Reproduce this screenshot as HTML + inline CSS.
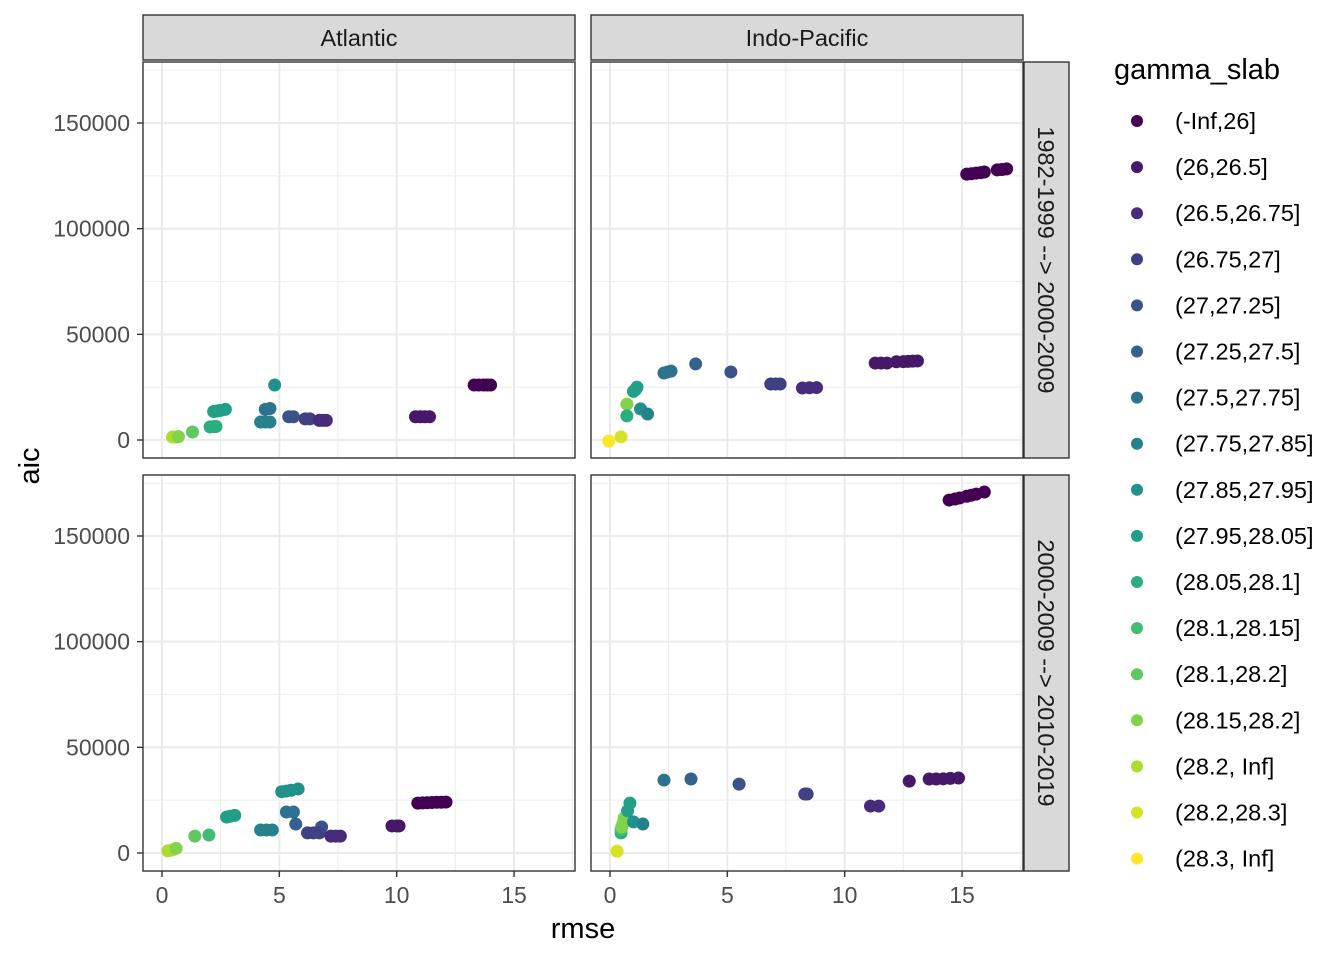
<!DOCTYPE html>
<html><head><meta charset="utf-8">
<style>
html,body{margin:0;padding:0;background:#fff;}
svg{display:block;font-family:"Liberation Sans",sans-serif;}
</style></head>
<body>
<svg id="chart" width="1344" height="960" xmlns="http://www.w3.org/2000/svg"></svg>
<script>
const categories = ["(-Inf,26]","(26,26.5]","(26.5,26.75]","(26.75,27]","(27,27.25]","(27.25,27.5]","(27.5,27.75]","(27.75,27.85]","(27.85,27.95]","(27.95,28.05]","(28.05,28.1]","(28.1,28.15]","(28.1,28.2]","(28.15,28.2]","(28.2, Inf]","(28.2,28.3]","(28.3, Inf]"];
const colNames = ["Atlantic","Indo-Pacific"];
const rowNames = ["1982-1999 --> 2000-2009","2000-2009 --> 2010-2019"];
const xTicks = [0,5,10,15];
const yTicks = [0,50000,100000,150000];
// panel: Atlantic, 1982-1999
const atl1_rmse = [0.45,0.6,0.7,1.3,2.05,2.2,2.3,2.2,2.35,2.5,2.7,4.8,4.2,4.4,4.6,4.4,4.6,5.4,5.6,6.1,6.3,6.7,6.85,7.0,10.8,11.0,11.2,11.4,13.3,13.5,13.7,13.85,14.0];
const atl1_aic  = [1400,1400,1600,3800,6200,6300,6400,13500,13700,14000,14500,26000,8500,8500,8500,14500,14900,11000,11000,10000,10000,9300,9300,9300,11000,11000,11000,11000,26000,26000,26000,26000,26000];
const atl1_grp  = [14,14,13,12,10,10,10,9,9,9,9,8,7,7,7,6,6,4,4,3,3,2,2,2,1,1,1,1,0,0,0,0,0];
// panel: Indo-Pacific, 1982-1999
const ind1_rmse = [-0.05,0.47,0.72,0.72,1.0,1.1,1.15,1.3,1.6,2.3,2.45,2.6,3.65,5.15,6.85,7.05,7.25,8.2,8.5,8.8,11.3,11.55,11.8,12.2,12.5,12.7,12.9,13.1,15.2,15.4,15.6,15.8,15.95,16.5,16.7,16.9];
const ind1_aic  = [-500,1500,17000,11400,23000,24000,25000,14700,12300,31700,32200,32600,36000,32200,26500,26500,26500,24600,24700,24800,36400,36400,36400,37000,37100,37200,37300,37400,125800,126000,126300,126500,126800,127800,128000,128300];
const ind1_grp  = [16,15,13,10,9,9,9,8,7,6,6,6,5,4,3,3,3,2,2,2,1,1,1,1,1,1,1,1,0,0,0,0,0,0,0,0];
// panel: Atlantic, 2000-2009
const atl2_rmse = [0.25,0.35,0.45,0.6,1.4,2.0,2.75,2.9,3.1,5.1,5.3,5.5,5.8,4.2,4.45,4.7,5.3,5.6,5.7,6.8,6.2,6.45,6.7,7.2,7.4,7.6,9.8,10.0,10.1,10.9,11.1,11.3,11.5,11.7,11.9,12.1];
const atl2_aic  = [1000,1200,1500,2200,8000,8500,17000,17400,17800,29000,29300,29700,30300,10900,10900,10900,19400,19400,13700,12300,9500,9500,9500,8000,8000,8000,12800,12800,12800,23600,23700,23800,23900,24000,24000,24100];
const atl2_grp  = [14,14,14,13,12,11,9,9,9,8,8,8,8,7,7,7,6,6,5,4,3,3,3,2,2,2,1,1,1,0,0,0,0,0,0,0];
// panel: Indo-Pacific, 2000-2009
const ind2_rmse = [0.3,0.47,0.47,0.5,0.55,0.6,0.6,0.75,0.85,1.0,1.4,2.3,3.45,5.5,8.3,8.4,11.1,11.45,12.75,13.6,13.9,14.2,14.5,14.85,14.45,14.7,14.9,15.2,15.4,15.6,15.95];
const ind2_aic  = [900,9500,11000,12300,14000,14500,16500,20000,23600,14700,13700,34500,35000,32600,27900,27900,22200,22200,34000,35000,35000,35100,35300,35500,167000,167500,168000,168800,169300,169800,170800];
const ind2_grp  = [15,10,11,13,13,13,13,9,9,8,7,6,5,4,3,3,2,2,1,1,1,1,1,1,0,0,0,0,0,0,0];

const panels = [
  {c:0,r:0,xs:atl1_rmse,ys:atl1_aic,gs:atl1_grp},
  {c:1,r:0,xs:ind1_rmse,ys:ind1_aic,gs:ind1_grp},
  {c:0,r:1,xs:atl2_rmse,ys:atl2_aic,gs:atl2_grp},
  {c:1,r:1,xs:ind2_rmse,ys:ind2_aic,gs:ind2_grp}
];
const stops=["#440154","#482475","#414487","#355F8D","#2A788E","#21918C","#22A884","#44BF70","#7AD151","#BDDF26","#FDE725"];
function hx(h){return [1,3,5].map(i=>parseInt(h.substr(i,2),16));}
function viridis(t){const s=t*10,i=Math.min(9,Math.floor(s)),f=s-i;const a=hx(stops[i]),b=hx(stops[i+1]);return "rgb("+a.map((v,k)=>Math.round(v+(b[k]-v)*f)).join(",")+")";}
const col = i=>viridis(i/(categories.length-1));

const NS="http://www.w3.org/2000/svg";
const svg=document.getElementById("chart");
function el(tag,attrs,parent,text){const e=document.createElementNS(NS,tag);for(const k in attrs)e.setAttribute(k,attrs[k]);if(text!==undefined)e.textContent=text;(parent||svg).appendChild(e);return e;}

const PX=[143,591],PW=432,PY=[62,475],PH=396;
function xScale(c,v){return PX[c]+19+(v*23.47);}
function yScale(r,v){return PY[r]+378-v*317/150000;}

panels.forEach(p=>{
  const g=el("g",{});
  
  
  const x0=PX[p.c],y0=PY[p.r];
  el("rect",{x:x0,y:y0,width:PW,height:PH,fill:"#fff"},g);
  [2.5,7.5,12.5,17.5].forEach(v=>{const x=xScale(p.c,v);if(x<x0+PW)el("line",{x1:x,x2:x,y1:y0,y2:y0+PH,stroke:"#EBEBEB","stroke-width":1},g);});
  [25000,75000,125000,175000].forEach(v=>{const y=yScale(p.r,v);el("line",{x1:x0,x2:x0+PW,y1:y,y2:y,stroke:"#EBEBEB","stroke-width":1},g);});
  xTicks.forEach(v=>{const x=xScale(p.c,v);el("line",{x1:x,x2:x,y1:y0,y2:y0+PH,stroke:"#EBEBEB","stroke-width":2},g);});
  yTicks.forEach(v=>{const y=yScale(p.r,v);el("line",{x1:x0,x2:x0+PW,y1:y,y2:y,stroke:"#EBEBEB","stroke-width":2},g);});
  p.xs.forEach((xv,i)=>{
    const c=el("circle",{cx:xScale(p.c,xv),cy:yScale(p.r,p.ys[i]),r:6.5,fill:col(p.gs[i])},g);
    
    
  });
  el("rect",{x:x0,y:y0,width:PW,height:PH,fill:"none",stroke:"#333","stroke-width":1.4},g);
});
colNames.forEach((n,c)=>{
  const g=el("g",{});
  
  
  el("rect",{x:PX[c],y:15,width:PW,height:45,fill:"#D9D9D9",stroke:"#333","stroke-width":1.4},g);
  el("text",{x:PX[c]+PW/2,y:46,"text-anchor":"middle","font-size":23.5,fill:"#1A1A1A"},g,n);
});
rowNames.forEach((n,r)=>{
  const g=el("g",{});
  
  
  el("rect",{x:1024,y:PY[r],width:45,height:PH,fill:"#D9D9D9",stroke:"#333","stroke-width":1.4},g);
  const cx=1038,cy=PY[r]+PH/2;
  el("text",{x:cx,y:cy,"text-anchor":"middle","font-size":23.5,fill:"#1A1A1A",transform:`rotate(90 ${cx} ${cy})`},g,n);
});
[0,1].forEach(r=>{yTicks.forEach(v=>{const y=yScale(r,v);
  el("line",{x1:137,x2:143,y1:y,y2:y,stroke:"#333","stroke-width":1.4});
  const t=el("text",{x:130,y:y+8,"text-anchor":"end","font-size":23,fill:"#4D4D4D"},svg,String(v));
  
  
});});
[0,1].forEach(c=>{xTicks.forEach(v=>{const x=xScale(c,v);
  el("line",{x1:x,x2:x,y1:871,y2:877,stroke:"#333","stroke-width":1.4});
  const t=el("text",{x:x,y:903,"text-anchor":"middle","font-size":23,fill:"#4D4D4D"},svg,String(v));
  
  
});});
const xt=el("text",{x:583,y:938,"text-anchor":"middle","font-size":29,fill:"#000"},svg,"rmse");


const yt=el("text",{x:39,y:466,"text-anchor":"middle","font-size":29,fill:"#000",transform:"rotate(-90 39 466)"},svg,"aic");


const lg=el("g",{});


el("text",{x:1114,y:79,"font-size":29,fill:"#000"},lg,"gamma_slab");
categories.forEach((n,i)=>{
  const y=121+i*46.1;
  const e=el("g",{},lg);
  
  
  el("circle",{cx:1137,cy:y,r:6,fill:col(i)},e);
  el("text",{x:1175,y:y+8,"font-size":23.5,fill:"#000"},e,n);
});
</script>
</body></html>
